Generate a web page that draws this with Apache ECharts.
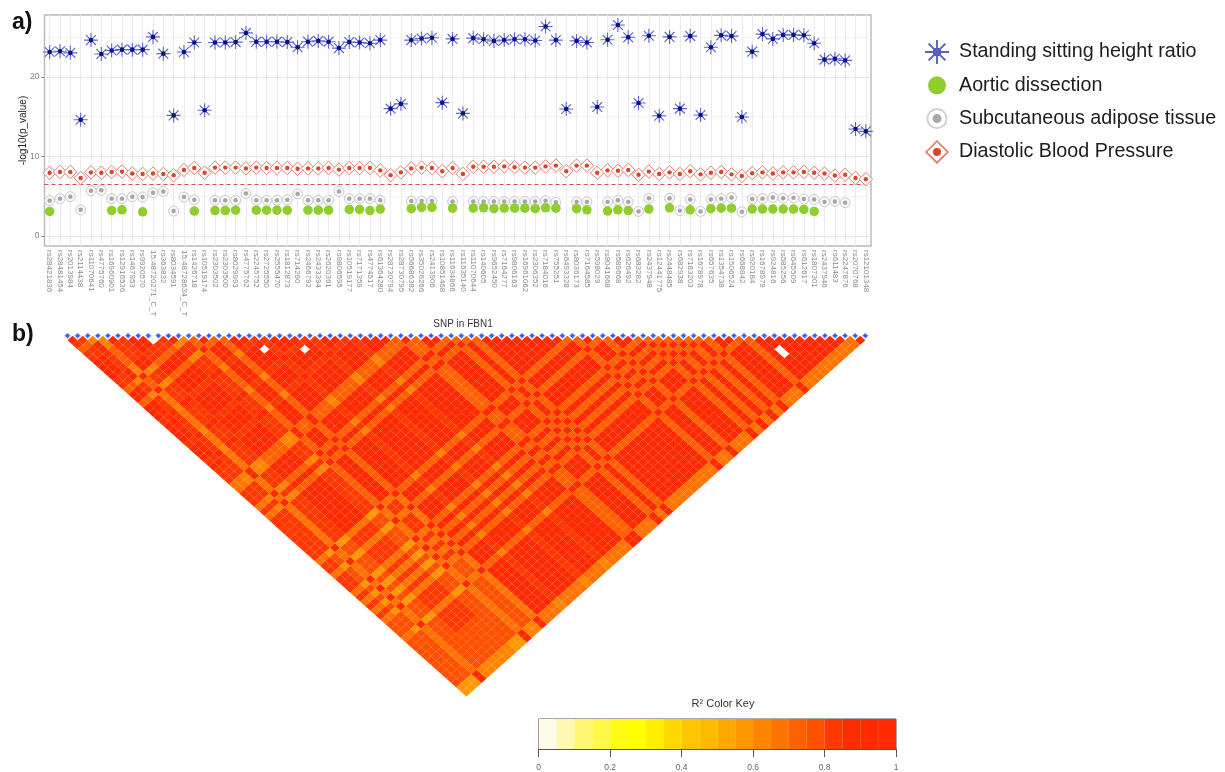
<!DOCTYPE html>
<html>
<head>
<meta charset="utf-8">
<title>FBN1 SNP associations and LD</title>
<script src="https://cdn.jsdelivr.net/npm/echarts@6/dist/echarts.min.js"></script>
<style>html,body{margin:0;padding:0;background:#fff}#c{width:1225px;height:772px;filter:blur(0.45px)}</style>
</head>
<body>
<div id="c"></div>
<script>
const snps = ["rs28421836","rs28481454","rs2013984","rs2114438","rs11070641","rs4775760","rs16960901","rs12916536","rs1467953","rs9920570","15:48720271_C_T","rs363832","rs8034591","15:48728634_C_T","rs1426718","rs10519174","rs2303502","rs2303500","rs8029993","rs4775762","rs2245752","rs2725550","rs2555470","rs1812873","rs714290","rs2466792","rs2433394","rs2620361","rs9806595","rs10519177","rs7171359","rs4774517","rs61364280","rs28730794","rs28730795","rs56686382","rs35026266","rs2413906","rs10851468","rs11634866","rs11635140","rs11070644","rs140605","rs9652450","rs7164277","rs9806163","rs16961062","rs2306352","rs7184016","rs755251","rs6493328","rs8036173","rs7164585","rs598029","rs8041668","rs589668","rs626492","rs683282","rs2437948","rs12441775","rs2448485","rs682938","rs7183203","rs1678978","rs657635","rs1354738","rs1506524","rs668842","rs920184","rs1678979","rs924816","rs585256","rs645509","rs612617","rs1807301","rs2437946","rs611483","rs2247876","rs2070768","rs12101348"];
const heightRatio = [23.1,23.2,23.0,14.6,24.6,22.85,23.3,23.4,23.4,23.4,25.0,22.9,15.15,23.1,24.3,15.8,24.3,24.3,24.35,25.5,24.4,24.4,24.4,24.35,23.7,24.4,24.5,24.4,23.6,24.35,24.3,24.2,24.6,16.0,16.6,24.6,24.8,24.9,16.75,24.75,15.4,24.85,24.7,24.5,24.6,24.7,24.7,24.55,26.3,24.6,15.95,24.5,24.3,16.2,24.65,26.5,24.95,16.7,25.15,15.1,25.0,16.0,25.1,15.2,23.7,25.2,25.1,14.95,23.15,25.35,24.75,25.25,25.25,25.2,24.2,22.15,22.25,22.05,13.45,13.15];
const aorticDissection = [3.1,null,null,null,null,null,3.2,3.3,null,3.05,null,null,null,null,3.15,null,3.2,3.2,3.25,null,3.25,3.25,3.25,3.25,null,3.25,3.25,3.25,null,3.35,3.35,3.2,3.4,null,null,3.45,3.6,3.6,null,3.5,null,3.5,3.55,3.45,3.5,3.5,3.5,3.45,3.55,3.5,null,3.45,3.3,null,3.15,3.3,3.2,null,3.4,null,3.55,null,3.3,null,3.45,3.5,3.5,null,3.4,3.4,3.4,3.4,3.4,3.35,3.1,null,null,null,null,null];
const adiposeTissue = [4.45,4.7,4.95,3.3,5.7,5.75,4.7,4.7,4.95,4.9,5.45,5.6,3.15,4.9,4.55,null,4.5,4.5,4.5,5.35,4.5,4.5,4.5,4.55,5.3,4.5,4.5,4.5,5.6,4.7,4.7,4.7,4.5,null,null,4.4,4.4,4.4,null,4.35,null,4.35,4.35,4.35,4.35,4.35,4.35,4.35,4.45,4.25,null,4.3,4.3,null,4.3,4.5,4.3,3.1,4.75,null,4.75,3.2,4.6,3.1,4.6,4.7,4.85,3.05,4.65,4.7,4.85,4.75,4.8,4.65,4.6,4.3,4.35,4.2,null,null];
const bloodPressure = [7.95,8.05,8.05,7.3,8.0,7.95,8.05,8.1,7.85,7.8,7.85,7.8,7.65,8.3,8.55,7.95,8.6,8.6,8.6,8.5,8.6,8.55,8.55,8.55,8.45,8.5,8.5,8.55,8.35,8.55,8.55,8.55,8.25,7.65,8.0,8.5,8.6,8.55,8.15,8.55,7.8,8.7,8.7,8.7,8.75,8.65,8.6,8.6,8.75,8.85,8.15,8.85,8.85,7.95,8.25,8.2,8.3,7.7,8.1,7.8,8.0,7.8,8.15,7.75,7.95,8.05,7.75,7.55,7.9,8.0,7.85,8.0,8.0,8.05,7.95,7.85,7.6,7.7,7.3,7.15];
const significanceLine = 6.5;
const yTicks = [0, 10, 20];
const yMinorLines = [5, 15, 25];

const ldLevels = [null,null,0.52,0.57,0.62,0.67,0.72,0.77,0.82,0.92];
const ldRows = [
"986889999 8869969998 9999899989 8885588858 5888888888 5885888585 8585777577 7777777733",
"86889999 8869969998 9999899989 8885588858 5888888888 5885888585 8585777577 7777777733",
"4998888 9948848889 8888988898 8884488848 4888888888 3773777373 7373777377 7777777733",
"446666 4496695554 5555455545 5559955595 9555555555 9559555959 5959555955 5555555599",
"98888 9948848889 8888988898 8884488848 4888888888 3773777373 7373777377 7777777744",
"8888 9948848889 8888988898 8884488848 4888888888 3773777373 7373777377 7777777744",
"999 8869969998 9999899989 9996699969 6999999999 5885888585 8585888588 8877777744",
"99 8869969998 9999899989 9996699969 6999999999 5885888585 8585888588 8877777744",
"0 8869969998 9999899989 9996699969 6999999999 5885888585 8585888588 8877777744",
"8869969998 9999899989 9996699969 6999999999 5885888585 8585888588 8877777744",
"948848889 8888988898 8884488848 4888888888 3773777373 7373777377 7777777733",
"48848889 8888988898 8884488848 4888888888 3773777373 7373777377 7777777733",
"6696664 6666466646 6669966696 9666666666 9559555959 5959555955 5555555599",
"969998 9999899989 9996699969 6999999999 5885888585 8585777577 7777777744",
"69998 9999899989 9996699969 6999999999 5885888585 8585777577 7777777744",
"6664 6666466646 6669966696 9666666666 9559555959 5959555955 5555555599",
"998 9999899989 9996699969 6999999999 6996999696 9696999699 9999999955",
"98 9999899989 9996699969 6999999999 6996999696 9696999699 9999999955",
"8 9099899989 9996699969 6999999999 6996999696 9696999699 9999999955",
"8888988898 8884488848 4888888888 4884888484 8484888488 8888888844",
"999899989 9996699969 6999999999 6996999696 9696999699 9999999955",
"99899989 9996699969 6999999999 6996999696 9696999699 9999999955",
"9809989 9996699969 6999999999 6996999696 9696999699 9999999955",
"899989 9996699969 6999999999 6996999696 9696999699 9999999955",
"88898 8884488848 4888888888 4884888484 8484888488 8888888844",
"9989 9996699969 6999999999 6996999696 9696999699 9999999955",
"989 9996699969 6999999999 6996999696 9696999699 9999999955",
"89 9996699969 6999999999 6996999696 9696999699 9999999955",
"8 8884488848 4888888888 4884888484 8484888488 8888888844",
"9996699969 6999999999 6996999696 9696999699 9999999955",
"996699969 6999999999 6996999696 9696999699 9999999955",
"96699969 6999999999 6996999696 9696999699 9999999955",
"6699969 6999999999 6996999696 9696999699 9999999955",
"966696 9666666666 9669666969 6969666966 6666666699",
"66696 9666666666 9669666969 6969666966 6666666699",
"9969 6999999999 6996999696 9696999699 9999999955",
"969 6999999999 6996999696 9696999699 9999999955",
"69 6999999999 6996999696 9696999699 9999999955",
"6 9666666666 9669666969 6969666966 6666666699",
"6999999999 6996999696 9696999699 9999999955",
"666666666 9669666969 6969666966 6666666699",
"99999999 6996999696 9696999699 9999999955",
"9999999 6996999696 9696999699 9999999955",
"999999 6996999696 9696999699 9999999955",
"99999 6996999696 9696999699 9999999955",
"9999 6996999696 9696999699 9999999955",
"999 6996999696 9696999699 9999999955",
"99 6996999696 9696999699 9999999955",
"9 6996999696 9696999699 9999999955",
"6996999696 9696999699 9999999955",
"669666969 6969666966 6666666699",
"96999696 9696999699 9999999955",
"6999696 9696999699 9999999955",
"666969 6969666966 6666666699",
"99696 9696999699 9999999955",
"9696 9696999699 9999999955",
"696 9696999699 9999999955",
"69 6969666966 6666666699",
"6 9696999699 9999999955",
"6969666966 6666666699",
"696999699 9999999955",
"69666966 6666666699",
"6999699 9999999955",
"666966 6666666699",
"99699 9999999955",
"9699 9999999955",
"699 9999999955",
"66 6666666699",
"9 9999999955",
"9900999955",
"999999955",
"99999955",
"9999955",
"999955",
"99955",
"9955",
"955",
"55",
"9"
];

const keyColors = ["#FFFBE8","#FFF8B2","#FFF673","#FFF845","#FFFB14","#FFFF00","#FFEE00","#FFD800","#FFC600","#FFB900","#FFA900","#FF9700","#FF8500","#FF7300","#FF6100","#FF5000","#FF3800","#FF2B00","#FF2A00","#FF2A00"];
const keyStep = 0.05;

/* ---- build library data from the named arrays ---- */
const ldData = [];
ldRows.forEach(function (row, i) {
  const digits = row.replace(/ /g, "");
  for (let k = 0; k < digits.length; k++) {
    const j = i + 1 + k;
    const v = ldLevels[+digits[k]];
    if (v !== null) ldData.push([(i + j) / 2, j - i, v]);
  }
});
const snpRow = snps.map(function (s, i) { return [i, 0, s]; });
const keyData = keyColors.map(function (c, i) { return [i * keyStep, (i + 1) * keyStep, i]; });

const star = "path://M46 0H54V100H46ZM0 46H100V54H0ZM12 18L18 12L88 82L82 88ZM82 12L88 18L18 88L12 82Z";
const greenIcon = "path://M0 0h.1v.1h-.1zM24 24h-.1v-.1h.1zM21 12A9 9 0 1 1 3 12A9 9 0 1 1 21 12Z";
const ringIcon = "path://M0 0h.1v.1h-.1zM24 24h-.1v-.1h.1zM22.5 12A10.5 10.5 0 1 1 1.5 12A10.5 10.5 0 1 1 22.5 12ZM20.7 12A8.7 8.7 0 1 0 3.3 12A8.7 8.7 0 1 0 20.7 12Z";
const diamondIcon = "path://M12 0L24 12L12 24L0 12ZM12 2.4L2.4 12L12 21.6L21.6 12Z";
const NAMES = ["Standing sitting height ratio", "Aortic dissection", "Subcutaneous adipose tissue", "Diastolic Blood Pressure"];
const FONT = "'Liberation Sans', Arial, sans-serif";

const chart = echarts.init(document.getElementById("c"), null, { renderer: "canvas" });
chart.setOption({
  animation: false,
  backgroundColor: "#ffffff",
  textStyle: { fontFamily: FONT },
  title: [
    { text: "a)", left: 7, top: 6, textStyle: { fontSize: 23, fontWeight: "bold", color: "#111", fontFamily: FONT } },
    { text: "b)", left: 7, top: 318, textStyle: { fontSize: 23, fontWeight: "bold", color: "#111", fontFamily: FONT } },
    { text: "SNP in FBN1", left: 458, top: 314.5, textAlign: "center", textStyle: { fontSize: 10, fontWeight: "normal", color: "#333", fontFamily: FONT } },
    { text: "R² Color Key", left: 718, top: 693, textAlign: "center", textStyle: { fontSize: 11, fontWeight: "normal", color: "#333", fontFamily: FONT } }
  ],
  legend: {
    left: 925, top: 40, padding: 0, orient: "vertical", itemWidth: 24, itemHeight: 24, itemGap: 9.3,
    selectedMode: false,
    textStyle: { fontSize: 19.7, color: "#1c1c1c", fontFamily: FONT, padding: [0, 0, 0, 5] },
    data: [
      { name: NAMES[0], icon: star, itemStyle: { color: "#5a62c4", borderWidth: 0 } },
      { name: NAMES[1], icon: greenIcon, itemStyle: { color: "#8fce2b", borderWidth: 0 } },
      { name: NAMES[2], icon: ringIcon, itemStyle: { color: "#cfcfcf", borderWidth: 0 } },
      { name: NAMES[3], icon: diamondIcon, itemStyle: { color: "#de7a6c", borderWidth: 0 } }
    ]
  },
  graphic: [
    { type: "circle", left: 933, top: 48, shape: { r: 4 }, style: { fill: "#0a1a8f" }, z: 100 },
    { type: "circle", left: 932.5, top: 114.1, shape: { r: 4.5 }, style: { fill: "#a8a8a8" }, z: 100 },
    { type: "circle", left: 933, top: 148, shape: { r: 4 }, style: { fill: "#d9442c" }, z: 100 }
  ],
  grid: [
    { left: 44.5, top: 15, width: 826.5, height: 231, show: true, borderColor: "#b8b8b8", borderWidth: 1.4, backgroundColor: "#fff" },
    { left: 67.5, top: 335.7, width: 797.8, height: 356.3, show: false },
    { left: 538.7, top: 719, width: 357.3, height: 31, show: true, borderColor: "#555", borderWidth: 1, backgroundColor: "#fff" }
  ],
  xAxis: [
    {
      type: "category", gridIndex: 0, data: snps, boundaryGap: true,
      axisLine: { show: false },
      axisTick: { alignWithLabel: true, length: 3, lineStyle: { color: "#555", width: 0.8 } },
      axisLabel: { interval: 0, rotate: -90, fontSize: 8, color: "#8a8a8a", margin: 4, hideOverlap: false, fontFamily: FONT },
      splitLine: { show: true, alignWithLabel: true, lineStyle: { color: "#ececec", width: 1.2 } }
    },
    { type: "value", gridIndex: 1, min: 0, max: 79, show: false, splitLine: { show: false } },
    {
      type: "value", gridIndex: 2, min: 0, max: 1, interval: 0.2,
      axisLine: { show: true, lineStyle: { color: "#555" } },
      axisTick: { show: true, length: 8, lineStyle: { color: "#555" } },
      axisLabel: { fontSize: 8.5, color: "#666", margin: 14, fontFamily: FONT, formatter: function (v) { return String(+v.toFixed(1)); } },
      splitLine: { show: false }
    }
  ],
  yAxis: [
    {
      type: "value", gridIndex: 0, min: -1.24, max: 27.75,
      name: "-log10(p_value)", nameLocation: "middle", nameGap: 16, nameMoveOverlap: false,
      nameTextStyle: { fontSize: 10, color: "#222", fontFamily: FONT },
      axisLine: { show: false },
      axisTick: { show: true, length: 3, customValues: yTicks, lineStyle: { color: "#555", width: 0.8 } },
      axisLabel: { fontSize: 8.5, color: "#808080", margin: 5, customValues: yTicks, fontFamily: FONT },
      splitLine: { show: false }
    },
    { type: "value", gridIndex: 1, min: 0, max: 79, inverse: true, show: false, splitLine: { show: false } },
    { type: "value", gridIndex: 2, min: 0, max: 1, show: false, splitLine: { show: false } }
  ],
  series: [
    {
      name: "grid", type: "scatter", xAxisIndex: 0, yAxisIndex: 0, data: [], z: 1,
      markLine: {
        silent: true, symbol: "none", label: { show: false }, animation: false, z: 1,
        data: yTicks.map(function (v) { return { yAxis: v, lineStyle: { color: "#e6e6e6", width: 1.2, type: "solid" } }; })
          .concat(yMinorLines.map(function (v) { return { yAxis: v, lineStyle: { color: "#f1f1f1", width: 0.8, type: "solid" } }; }))
      }
    },
    {
      name: NAMES[3], type: "scatter", xAxisIndex: 0, yAxisIndex: 0, data: bloodPressure,
      symbol: "diamond", symbolSize: 13.5, z: 3,
      itemStyle: { color: "#fff", borderColor: "#e0806f", borderWidth: 1, opacity: 1 },
      markLine: {
        silent: true, symbol: "none", label: { show: false }, z: 2,
        lineStyle: { color: "#d2524c", type: [4, 3], width: 1.2 },
        data: [{ yAxis: significanceLine }]
      }
    },
    {
      name: NAMES[3], type: "scatter", xAxisIndex: 0, yAxisIndex: 0, data: bloodPressure,
      symbol: "circle", symbolSize: 4.4, z: 4, itemStyle: { color: "#d9442c", opacity: 1 }
    },
    {
      name: NAMES[2], type: "scatter", xAxisIndex: 0, yAxisIndex: 0, data: adiposeTissue,
      symbol: "circle", symbolSize: 10, z: 3,
      itemStyle: { color: "#f6f6f6", borderColor: "#cbcbcb", borderWidth: 1, opacity: 1 }
    },
    {
      name: NAMES[2], type: "scatter", xAxisIndex: 0, yAxisIndex: 0, data: adiposeTissue,
      symbol: "circle", symbolSize: 4.4, z: 4, itemStyle: { color: "#a5a5a5", opacity: 1 }
    },
    {
      name: NAMES[1], type: "scatter", xAxisIndex: 0, yAxisIndex: 0, data: aorticDissection,
      symbol: "circle", symbolSize: 9.5, z: 5, itemStyle: { color: "#8fce2b", opacity: 1 }
    },
    {
      name: NAMES[0], type: "scatter", xAxisIndex: 0, yAxisIndex: 0, data: heightRatio,
      symbol: star, symbolSize: 14, z: 3, itemStyle: { color: "#6168c6", opacity: 1 }
    },
    {
      name: NAMES[0], type: "scatter", xAxisIndex: 0, yAxisIndex: 0, data: heightRatio,
      symbol: "circle", symbolSize: 4.6, z: 4, itemStyle: { color: "#07138c", opacity: 1 }
    },
    {
      name: "LD r2", type: "scatter", xAxisIndex: 1, yAxisIndex: 1, data: ldData,
      symbol: "diamond", symbolSize: [10.15, 9.05], progressive: 0, large: false, z: 2,
      itemStyle: {
        opacity: 1,
        color: function (p) { return keyColors[Math.min(keyColors.length - 1, Math.floor(p.value[2] / keyStep))]; }
      }
    },
    {
      name: "SNP", type: "scatter", xAxisIndex: 1, yAxisIndex: 1, data: snpRow,
      symbol: "diamond", symbolSize: 5.5, z: 3, clip: false,
      itemStyle: { color: "#3e58ea", borderColor: "#b0bff8", borderWidth: 1, opacity: 1 }
    },
    {
      name: "Color key", type: "custom", xAxisIndex: 2, yAxisIndex: 2, data: keyData,
      encode: { x: [0, 1] }, z: 2,
      renderItem: function (params, api) {
        const a = api.coord([api.value(0), 0]);
        const b = api.coord([api.value(1), 1]);
        return {
          type: "rect",
          shape: { x: a[0], y: b[1], width: b[0] - a[0], height: a[1] - b[1] },
          style: { fill: keyColors[api.value(2)], stroke: null }
        };
      }
    }
  ]
});
</script>
</body>
</html>
